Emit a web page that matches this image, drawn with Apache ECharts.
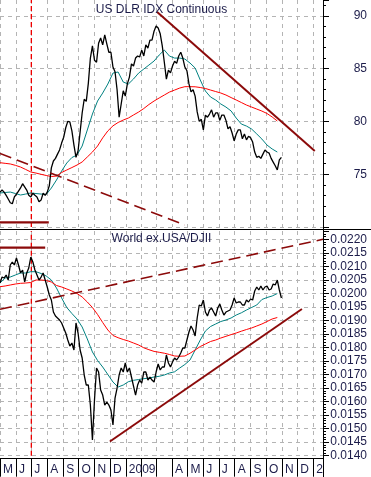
<!DOCTYPE html>
<html><head><meta charset="utf-8">
<script src="https://cdn.jsdelivr.net/npm/echarts@6.0.0/dist/echarts.min.js"></script>
<style>html,body{margin:0;padding:0;background:#fff}#c{width:371px;height:477px}</style>
</head><body><div id="c"></div>
<script>
// ---- axis domain (calendar days) and month tick labels ----
const axisStart = '2008-05-01';
const axisEnd = '2010-01-20';
const monthLabels = ['M','J','J','A','S','O','N','D','2009','','','A','M','J','J','A','S','O','N','D','2'];
const titles = ['US DLR IDX Continuous', 'World ex.USA/DJII'];

// ---- US Dollar Index (sampled every 4 days from priceStart) ----
const priceStart = '2008-05-01';
const priceStepDays = 4;
const dlrClose = [73.3,73.5,73.3,73.0,72.65,72.3,72.2,72.85,73.1,73.4,
 73.7,74.1,73.8,73.5,73.0,72.85,73.2,73.0,72.85,72.4,
 72.55,73.2,73.0,73.3,73.9,75.6,76.25,76.5,76.9,77.3,
 77.95,78.5,79.4,80.0,79.95,79.1,77.75,76.6,77.2,79.0,
 80.8,82.1,81.9,83.6,86.0,87.15,85.8,85.6,87.4,87.9,
 87.25,88.2,87.35,86.55,86.55,85.15,84.7,83.0,80.4,81.65,
 82.9,82.4,83.55,84.2,85.45,85.25,86.0,86.2,86.1,86.75,
 86.2,87.25,86.95,87.7,87.7,88.55,89.05,88.85,88.3,87.15,
 85.6,84.0,84.85,84.6,85.25,85.7,85.5,86.2,86.55,86.0,
 85.15,84.8,83.55,82.8,83.0,82.4,80.9,80.0,80.2,79.2,
 80.6,80.4,80.7,81.1,80.4,80.8,80.8,80.1,80.6,80.6,
 80.1,79.3,79.5,78.9,78.15,78.8,79.2,79.2,78.35,78.8,
 78.25,78.6,78.45,78.05,77.1,76.6,76.7,76.5,76.9,77.3,
 77.1,77.0,76.5,76.15,75.8,75.4,76.35,76.6];

// ---- moving averages (sampled every 10 days from maStart) ----
const maStart = '2008-05-01';
const maStepDays = 10;
const dlrMaShort = [73.22,73.27,73.31,73.17,73.03,73.12,73.22,73.17,73.12,73.08,
 73.69,74.45,75.30,76.06,76.58,76.82,77.67,79.19,80.70,81.93,
 82.69,83.54,84.58,84.68,83.73,83.54,84.02,84.58,84.96,85.34,
 85.72,86.29,86.76,86.19,86.00,86.00,85.91,85.53,85.06,83.92,
 82.88,82.31,82.03,81.65,81.36,80.99,80.32,79.75,79.56,79.28,
 78.81,78.33,77.76,77.39,77.10];
const dlrMaLong = [76.09,76.03,75.97,75.84,75.68,75.45,75.21,75.11,74.99,74.88,
 74.78,74.83,75.16,75.40,75.63,75.87,76.16,76.63,77.10,77.67,
 78.44,79.10,79.58,79.90,80.13,80.32,80.61,80.89,81.22,81.60,
 81.93,82.22,82.50,82.78,82.97,83.16,83.29,83.29,83.28,83.21,
 83.12,82.97,82.83,82.69,82.50,82.26,82.03,81.79,81.55,81.36,
 81.17,80.98,80.75,80.42,80.04];

// ---- World ex.USA / DJII ratio ----
const worldRatio = [0.020384,0.020606,0.020569,0.020680,0.020495,0.021050,0.021161,0.021050,0.021309,0.021050,
 0.020754,0.020865,0.020421,0.020754,0.020939,0.021346,0.021161,0.020865,0.020680,0.020495,
 0.020606,0.020754,0.020495,0.020237,0.019941,0.019756,0.019312,0.019164,0.019090,0.019017,
 0.018906,0.018721,0.018536,0.018277,0.018055,0.018166,0.017907,0.018906,0.018536,0.017907,
 0.017612,0.016983,0.016613,0.016613,0.015874,0.014580,0.016059,0.017242,0.017094,0.016428,
 0.016243,0.015874,0.015985,0.015874,0.015689,0.015135,0.016132,0.016502,0.016983,0.017242,
 0.017094,0.017427,0.017094,0.017242,0.016909,0.016576,0.016243,0.016613,0.016798,0.016687,
 0.017094,0.017094,0.016798,0.016909,0.016798,0.016724,0.017094,0.017390,0.017168,0.017279,
 0.017279,0.017722,0.017427,0.017279,0.017464,0.017612,0.017538,0.017649,0.017796,0.017981,
 0.017981,0.018277,0.018573,0.018795,0.018647,0.018425,0.019090,0.019571,0.019534,0.019756,
 0.019312,0.019164,0.019386,0.019460,0.019312,0.019164,0.019460,0.019608,0.019386,0.019201,
 0.019312,0.019349,0.019386,0.019571,0.019830,0.019645,0.019682,0.019682,0.019571,0.019571,
 0.019756,0.019682,0.019793,0.019756,0.020089,0.020237,0.020126,0.020273,0.020126,0.020237,
 0.020273,0.020126,0.020163,0.020347,0.020310,0.020495,0.020126,0.019830];
const worldMaShort = [0.020384,0.020569,0.020606,0.020680,0.020754,0.020754,0.020802,0.020802,0.020736,0.020643,
 0.020495,0.020199,0.019830,0.019479,0.019257,0.019054,0.018758,0.018316,0.017835,0.017519,
 0.017279,0.017002,0.016724,0.016539,0.016613,0.016736,0.016787,0.016817,0.016847,0.016872,
 0.016909,0.016935,0.016983,0.017057,0.017102,0.017242,0.017372,0.017538,0.017907,0.018277,
 0.018610,0.018776,0.018869,0.018961,0.019017,0.019091,0.019201,0.019283,0.019386,0.019479,
 0.019571,0.019774,0.019848,0.019904,0.019996];
const worldMaLong = [0.020248,0.020274,0.020311,0.020347,0.020373,0.020384,0.020403,0.020495,0.020495,0.020477,
 0.020421,0.020292,0.020237,0.020163,0.020089,0.019996,0.019867,0.019682,0.019479,0.019220,
 0.018924,0.018647,0.018444,0.018362,0.018296,0.018240,0.018166,0.018092,0.017989,0.017919,
 0.017856,0.017823,0.017789,0.017741,0.017686,0.017675,0.017686,0.017786,0.017908,0.018037,
 0.018129,0.018222,0.018277,0.018351,0.018414,0.018477,0.018536,0.018603,0.018665,0.018721,
 0.018795,0.018869,0.018961,0.019054,0.019109];

// ---- drawn trend lines (dates, values) ----
const markerDate = '2008-07-01';
const dlrDownDates = ['2009-03-03','2010-01-04'], dlrDownVals = [90.36, 77.20];
const dlrDashDates = ['2008-05-01','2009-04-26'], dlrDashVals = [76.96, 70.19];
const dlrBaseDates = ['2008-05-01','2008-08-04'], dlrBaseVals = [70.43, 70.43];
const worldUpDates = ['2008-12-01','2009-12-10'], worldUpVals = [0.014525, 0.019423];
const worldDashDates = ['2008-05-01','2010-01-20'], worldDashVals = [0.019412, 0.0220];
const worldTopDates = ['2008-05-01','2008-07-28'], worldTopVals = [0.02169, 0.02169];

// ---- axis ranges ----
const dlrRange = [70, 91.5];
const worldRange = [0.014, 0.022307];

// ---- helpers ----
function addDays(iso, n){ const d = new Date(iso + 'T00:00:00Z'); d.setUTCDate(d.getUTCDate() + n); return d.toISOString().slice(0, 10); }
const categories = [];
for (let d = axisStart; d <= axisEnd; d = addDays(d, 1)) categories.push(d);
const sampled = (start, step, vals) => vals.map((v, i) => [addDays(start, i * step), v]);
const paired = (dates, vals) => dates.map((d, i) => [d, vals[i]]);
const isMonthStart = (idx, val) => String(val).slice(8) === '01';
function monthLabel(val){ const y = +val.slice(0, 4), m = +val.slice(5, 7); return monthLabels[(y - 2008) * 12 + (m - 5)] || ''; }

const FONT = '"Liberation Sans", Arial, sans-serif';
const TXT = '#1c1c4a';
const GRIDC = '#b4b4b4';
const TREND = '#8b0a0a';
const splitStyle = { show: true, lineStyle: { color: GRIDC, type: [4, 4], width: 1 } };

function lineSeries(grid, data, color, width, type, z){
  return { type: 'line', xAxisIndex: grid, yAxisIndex: grid, data, symbol: 'none', showSymbol: false,
    lineStyle: { color, width, type: type || 'solid' }, itemStyle: { color }, z: z || 3, silent: true, animation: false };
}

const series = [
  lineSeries(0, paired([markerDate, markerDate], dlrRange), '#ee0000', 1.3, [5, 3], 2),
  lineSeries(0, sampled(priceStart, priceStepDays, dlrClose), '#000', 1.3, null, 5),
  lineSeries(0, sampled(maStart, maStepDays, dlrMaShort), '#008080', 1, null, 4),
  lineSeries(0, sampled(maStart, maStepDays, dlrMaLong), '#ff0000', 1, null, 4),
  lineSeries(0, paired(dlrDownDates, dlrDownVals), TREND, 2, null, 6),
  lineSeries(0, paired(dlrDashDates, dlrDashVals), TREND, 1.6, [12, 6], 6),
  lineSeries(0, paired(dlrBaseDates, dlrBaseVals), TREND, 2.2, null, 6),
  lineSeries(1, paired([markerDate, markerDate], worldRange), '#ee0000', 1.3, [5, 3], 2),
  lineSeries(1, sampled(priceStart, priceStepDays, worldRatio), '#000', 1.3, null, 5),
  lineSeries(1, sampled(maStart, maStepDays, worldMaShort), '#008080', 1, null, 4),
  lineSeries(1, sampled(maStart, maStepDays, worldMaLong), '#ff0000', 1, null, 4),
  lineSeries(1, paired(worldUpDates, worldUpVals), TREND, 2, null, 6),
  lineSeries(1, paired(worldDashDates, worldDashVals), TREND, 1.6, [12, 6], 6),
  lineSeries(1, paired(worldTopDates, worldTopVals), TREND, 2.2, null, 6)
];

const yLabel = { fontSize: 12, fontFamily: FONT, color: TXT, align: 'right', margin: 44, showMaxLabel: false };
const option = {
  animation: false,
  backgroundColor: '#fff',
  grid: [
    { left: 0, right: 48, top: 0, height: 227, outerBoundsMode: 'none' },
    { left: 0, right: 48, top: 231, height: 224.7, outerBoundsMode: 'none' }
  ],
  xAxis: [
    { type: 'category', gridIndex: 0, data: categories, boundaryGap: false,
      axisLine: { show: false }, axisTick: { show: false }, axisLabel: { show: false },
      splitLine: Object.assign({ interval: isMonthStart }, splitStyle) },
    { type: 'category', gridIndex: 1, data: categories, boundaryGap: false, offset: 3,
      axisLine: { show: true, lineStyle: { color: '#000', width: 1 } },
      axisTick: { show: true, interval: isMonthStart, length: 18, lineStyle: { color: '#000' } },
      axisLabel: { show: true, interval: isMonthStart, formatter: monthLabel, align: 'left', margin: 5,
        padding: [0, 0, 0, 3], fontSize: 12, fontFamily: FONT, color: TXT },
      splitLine: Object.assign({ interval: isMonthStart }, splitStyle) }
  ],
  yAxis: [
    { type: 'value', gridIndex: 0, position: 'right', min: dlrRange[0], max: dlrRange[1], interval: 5,
      axisLine: { show: true, lineStyle: { color: '#000' } },
      axisTick: { show: true, length: 6, lineStyle: { color: '#000' } },
      minorTick: { show: true, splitNumber: 5, length: 3, lineStyle: { color: '#000' } },
      axisLabel: Object.assign({ showMinLabel: false, formatter: v => String(v) }, yLabel),
      splitLine: { show: true, showMaxLine: false, lineStyle: { color: GRIDC, type: [4, 4], width: 1 } } },
    { type: 'value', gridIndex: 1, position: 'right', min: worldRange[0], max: worldRange[1], interval: 0.0005,
      axisLine: { show: true, lineStyle: { color: '#000' } },
      axisTick: { show: true, length: 6, lineStyle: { color: '#000' } },
      minorTick: { show: true, splitNumber: 5, length: 3, lineStyle: { color: '#000' } },
      axisLabel: Object.assign({ formatter: v => v.toFixed(4) }, yLabel),
      splitLine: { show: true, showMaxLine: false, lineStyle: { color: GRIDC, type: [4, 4], width: 1 } } }
  ],
  graphic: [
    { type: 'line', shape: { x1: 0, y1: 229.5, x2: 371, y2: 229.5 }, style: { stroke: '#000', lineWidth: 1 }, z: 100 },
    { type: 'line', shape: { x1: 323.5, y1: 0, x2: 323.5, y2: 477 }, style: { stroke: '#000', lineWidth: 1 }, z: 100 },
    { type: 'text', x: 161.5, y: 10, z: 100, style: { text: titles[0], fill: TXT, font: '12px ' + FONT, align: 'center', verticalAlign: 'middle' } },
    { type: 'text', x: 161.5, y: 238.5, z: 100, style: { text: titles[1], fill: TXT, font: '12px ' + FONT, align: 'center', verticalAlign: 'middle' } }
  ],
  series
};
const chart = echarts.init(document.getElementById('c'), null, { renderer: 'canvas' });
chart.setOption(option);
</script>
</body></html>
